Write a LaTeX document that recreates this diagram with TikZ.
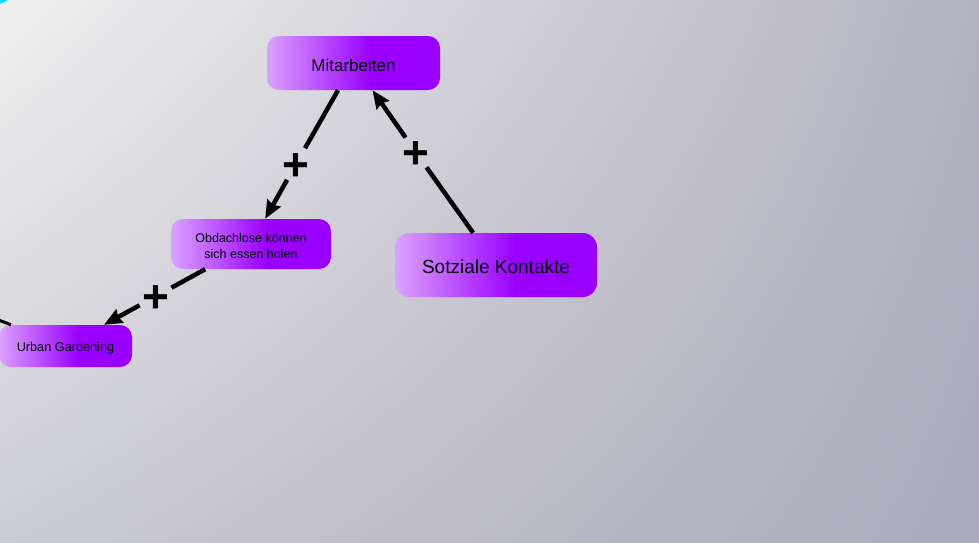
\documentclass[tikz,border=0pt]{standalone}
\usepackage{fontspec}
\setmainfont{Liberation Sans}
\usetikzlibrary{arrows.meta,shadings}
\definecolor{vlight}{HTML}{DCA2FF}
\definecolor{vdark}{HTML}{9900FF}
\definecolor{bgA}{HTML}{F0F0F0}
\definecolor{bgB}{HTML}{B3B2C1}
\definecolor{bgC}{HTML}{CBCBD3}
\definecolor{bgD}{HTML}{ABAABB}
\definecolor{cyanedge}{HTML}{00E0FF}
\pgfdeclarehorizontalshading{vshade}{100bp}{color(0bp)=(vlight); color(25bp)=(vlight); color(55bp)=(vdark); color(100bp)=(vdark)}
\tikzset{
  concept/.style={rectangle, rounded corners=12pt, shading=vshade, draw=none, align=center, text=black, inner sep=0pt},
  plusnode/.style={circle, minimum size=36pt, inner sep=0pt, font=\fontsize{46}{46}\selectfont\bfseries},
  link/.style={line width=4.5pt},
  linkarrow/.style={line width=4.5pt, -{Stealth[length=18pt,width=15pt,inset=2pt]}},
}
\newcommand{\plustext}{\raisebox{-0.35em}[0pt][0pt]{+}}
\newcommand{\lowered}[2][2pt]{\raisebox{-#1}[\height][\depth]{#2}}
\begin{document}
\begin{tikzpicture}[x=1pt,y=-1pt]
\useasboundingbox (0,0) rectangle (979,542);
\clip (0,0) rectangle (979,542);
\shade[upper left=bgA, upper right=bgB, lower left=bgC, lower right=bgD] (0,0) rectangle (979,542);
\fill[cyanedge] (0,0) -- (8,0) .. controls (4,2) .. (0,4) -- cycle;

\node[concept, minimum width=173pt, minimum height=54pt, font=\fontsize{17}{20}\selectfont] (mit) at (353.5,63) {\lowered{Mitarbeiten}};
\node[concept, minimum width=160pt, minimum height=50pt, font=\fontsize{12.5}{16}\selectfont] (obd) at (251,244) {\lowered[3pt]{\begin{tabular}{@{}c@{}}Obdachlose können\\sich essen holen\end{tabular}}};
\node[concept, minimum width=133pt, minimum height=42pt, font=\fontsize{12.7}{15}\selectfont] (urb) at (65.5,346) {\lowered{Urban Gardening}};
\node[concept, rounded corners=14pt, minimum width=202pt, minimum height=64pt, font=\fontsize{19}{22}\selectfont] (soz) at (496,265) {\lowered{Sotziale Kontakte}};

\node[plusnode] (p1) at (296,164) {\plustext};
\node[plusnode] (p2) at (416,152.5) {\plustext};
\node[plusnode] (p3) at (155.5,296.5) {\plustext};

\coordinate (ext) at (-40,305);

\draw[link] (mit) -- (p1);
\draw[linkarrow] (p1) -- (obd);
\draw[link] (soz) -- (p2);
\draw[linkarrow] (p2) -- (mit);
\draw[link] (obd) -- (p3);
\draw[linkarrow] (p3) -- (urb);
\draw[line width=3pt] (ext) -- (urb);
\end{tikzpicture}
\end{document}
